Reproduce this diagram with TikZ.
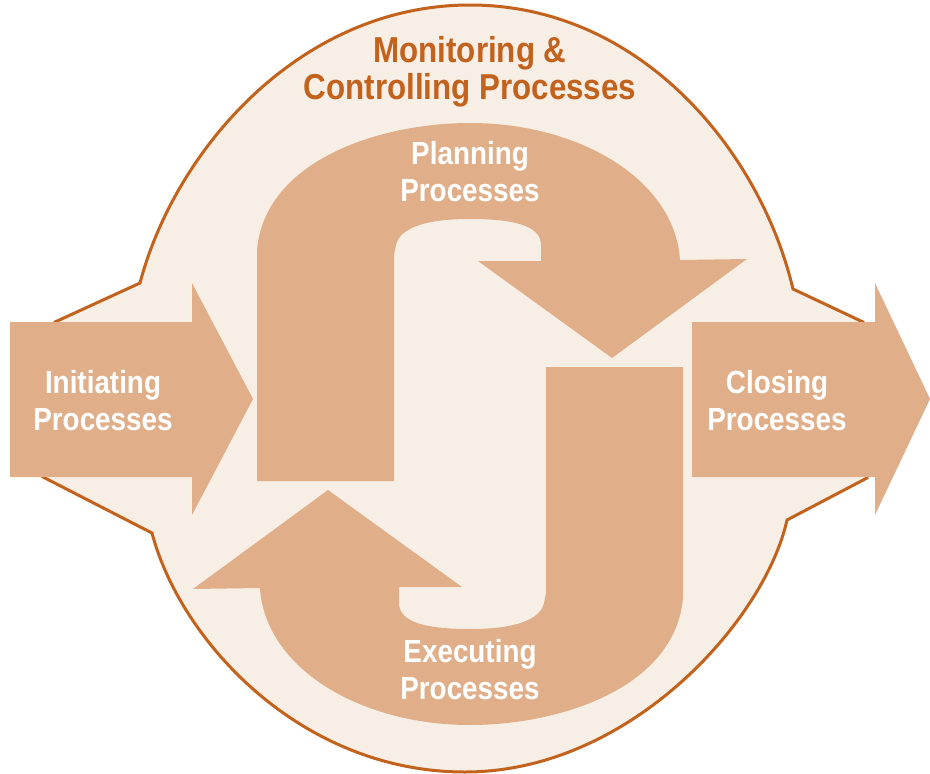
\documentclass[tikz,border=0pt]{standalone}
\usepackage{fontspec}
\setmainfont{Liberation Sans}
\newfontfamily\stagefont[FakeStretch=0.87]{Liberation Sans}
\definecolor{tanfill}{HTML}{E0AF89}
\definecolor{creambg}{HTML}{F7EEE5}
\definecolor{rimline}{HTML}{C2621C}
\newcommand{\cyclearrow}{(257,481) -- (257,250) .. controls (265,160) and (380,123) .. (470,123) .. controls (580,123) and (675,180) .. (680,260) -- (747,259) -- (612,358) -- (478,261) -- (541,261) -- (541,245) .. controls (541,225) and (512,219) .. (470,219) .. controls (425,219) and (400,228) .. (396,245) -- (394,255) -- (394,481) -- cycle}

\begin{document}
\begin{tikzpicture}[x=1pt, y=-1pt, rim/.style = {draw=rimline, line width=3pt, fill=creambg}, block/.style = {fill=tanfill}, stage/.style = {text=white, align=center, inner sep=0pt, font=\stagefont\bfseries\fontsize{32}{37}\selectfont}, heading/.style = {text=rimline, align=center, inner sep=0pt, font=\stagefont\bfseries\fontsize{36}{37}\selectfont}]
	\useasboundingbox (0,0) rectangle (930,774);
	\filldraw[rim] (140,283) .. controls (175,150) and (300,5) .. (470,5) .. controls (640,5) and (760,150) .. (793,289) -- (863,322) -- (867,478) -- (787,520) .. controls (765,620) and (630,772) .. (465,772) .. controls (300,772) and (180,640) .. (152,533) -- (43,477) -- (55,322) -- cycle;
	\fill[block] (10,322) -- (192,322) -- (192,283) -- (253,399) -- (192,515) -- (192,477) -- (10,477) -- cycle;
	\fill[block] (692,322) -- (875,322) -- (875,283) -- (930,399) -- (875,515) -- (875,477) -- (692,477) -- cycle;
	\fill[block] \cyclearrow;
	\fill[block, rotate around={180:(470,424)}] \cyclearrow;
	\node[heading] (monitor) at (470,72) {Monitoring \&\\Controlling Processes};
	\node[stage] (plan) at (470,172) {Planning\\Processes};
	\node[stage] (exec) at (470,670) {Executing\\Processes};
	\node[stage] (init) at (103,401) {Initiating\\Processes};
	\node[stage] (close) at (777,401) {Closing\\Processes};
\end{tikzpicture}
\end{document}
